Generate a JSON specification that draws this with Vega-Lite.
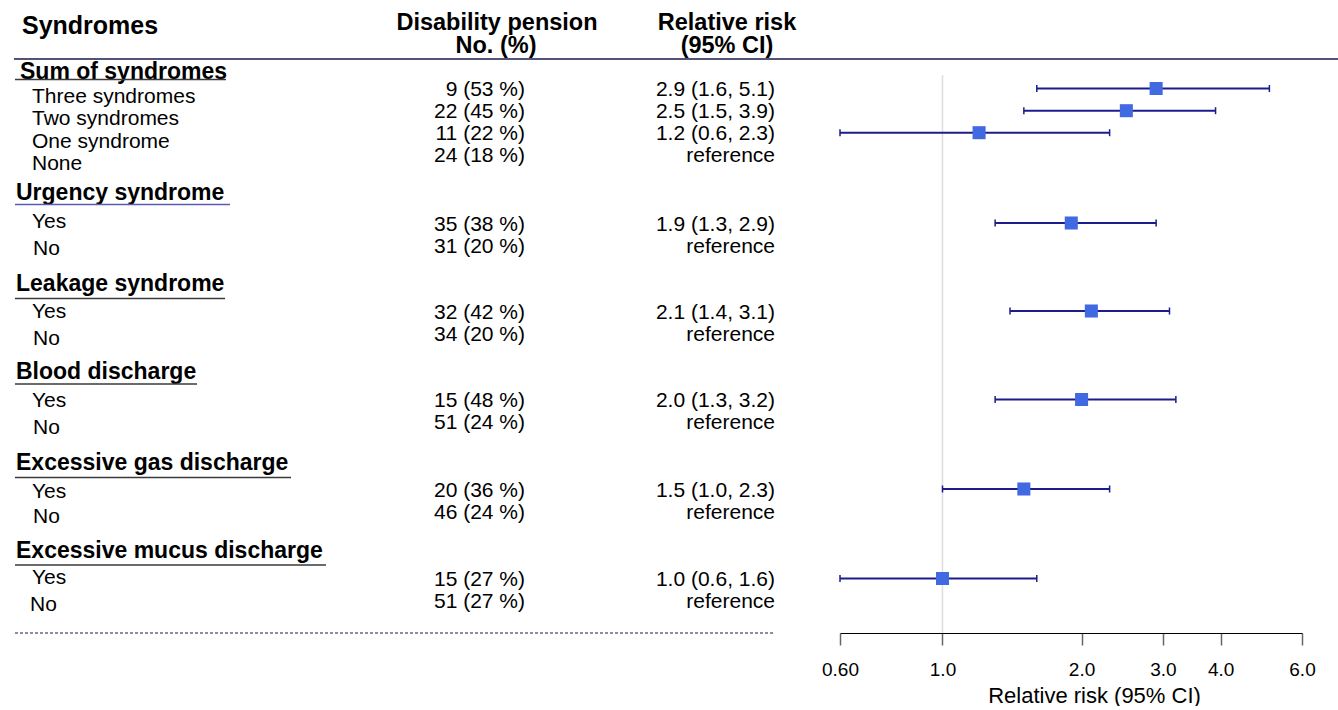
{
  "$schema": "https://vega.github.io/schema/vega-lite/v6.json",
  "padding": 0,
  "spacing": 0,
  "bounds": "flush",
  "config": {"view": {"stroke": null}, "font": "Liberation Sans", "text": {"font": "Liberation Sans", "color": "#000000"}},
  "datasets": {
    "headersLeft": [
      {"text": "Syndromes", "hx": 22, "hy": 25.5}
    ],
    "headersCenter": [
      {"text": "Disability pension", "hx": 497, "hy": 22.5},
      {"text": "No. (%)", "hx": 496, "hy": 46},
      {"text": "Relative risk", "hx": 727, "hy": 22.5},
      {"text": "(95% CI)", "hx": 727, "hy": 46}
    ],
    "topLine": [{"x1": 14, "x2": 840, "y": 59}],
    "bottomLine": [{"x1": 15, "x2": 775, "y": 633}],
    "sections": [
      {"section": "Sum of syndromes", "col": 20, "pos": 72, "ul": 79.5, "ulStart": 15, "ulEnd": 226},
      {"section": "Urgency syndrome", "col": 16, "pos": 192.5, "ul": 204.5, "ulStart": 15, "ulEnd": 230},
      {"section": "Leakage syndrome", "col": 16, "pos": 284, "ul": 298.5, "ulStart": 15, "ulEnd": 225},
      {"section": "Blood discharge", "col": 16, "pos": 371.5, "ul": 384, "ulStart": 15, "ulEnd": 197},
      {"section": "Excessive gas discharge", "col": 16, "pos": 463, "ul": 477.5, "ulStart": 15, "ulEnd": 291},
      {"section": "Excessive mucus discharge", "col": 16, "pos": 551, "ul": 565, "ulStart": 15, "ulEnd": 326}
    ],
    "items": [
      {"label": "Three syndromes", "col": 32, "pos": 97},
      {"label": "Two syndromes", "col": 32, "pos": 119},
      {"label": "One syndrome", "col": 32, "pos": 141.5},
      {"label": "None", "col": 32, "pos": 163.5},
      {"label": "Yes", "col": 32, "pos": 222},
      {"label": "No", "col": 33, "pos": 248.5},
      {"label": "Yes", "col": 32, "pos": 311.5},
      {"label": "No", "col": 33, "pos": 339},
      {"label": "Yes", "col": 32, "pos": 400.5},
      {"label": "No", "col": 33, "pos": 428},
      {"label": "Yes", "col": 32, "pos": 491.5},
      {"label": "No", "col": 33, "pos": 517},
      {"label": "Yes", "col": 32, "pos": 578},
      {"label": "No", "col": 30, "pos": 605}
    ],
    "results": [
      {"pos": 88.5, "ncol": 525, "cicol": 775, "n": "9 (53 %)", "ci": "2.9 (1.6, 5.1)", "rr": 2.9, "lo": 1.6, "hi": 5.1},
      {"pos": 110.7, "ncol": 525, "cicol": 775, "n": "22 (45 %)", "ci": "2.5 (1.5, 3.9)", "rr": 2.5, "lo": 1.5, "hi": 3.9},
      {"pos": 132.7, "ncol": 525, "cicol": 775, "n": "11 (22 %)", "ci": "1.2 (0.6, 2.3)", "rr": 1.2, "lo": 0.6, "hi": 2.3},
      {"pos": 154.5, "ncol": 525, "cicol": 775, "n": "24 (18 %)", "ci": "reference", "rr": null, "lo": null, "hi": null},
      {"pos": 223, "ncol": 525, "cicol": 775, "n": "35 (38 %)", "ci": "1.9 (1.3, 2.9)", "rr": 1.9, "lo": 1.3, "hi": 2.9},
      {"pos": 245, "ncol": 525, "cicol": 775, "n": "31 (20 %)", "ci": "reference", "rr": null, "lo": null, "hi": null},
      {"pos": 311, "ncol": 525, "cicol": 775, "n": "32 (42 %)", "ci": "2.1 (1.4, 3.1)", "rr": 2.1, "lo": 1.4, "hi": 3.1},
      {"pos": 333, "ncol": 525, "cicol": 775, "n": "34 (20 %)", "ci": "reference", "rr": null, "lo": null, "hi": null},
      {"pos": 399.5, "ncol": 525, "cicol": 775, "n": "15 (48 %)", "ci": "2.0 (1.3, 3.2)", "rr": 2.0, "lo": 1.3, "hi": 3.2},
      {"pos": 421.5, "ncol": 525, "cicol": 775, "n": "51 (24 %)", "ci": "reference", "rr": null, "lo": null, "hi": null},
      {"pos": 489, "ncol": 525, "cicol": 775, "n": "20 (36 %)", "ci": "1.5 (1.0, 2.3)", "rr": 1.5, "lo": 1.0, "hi": 2.3},
      {"pos": 511, "ncol": 525, "cicol": 775, "n": "46 (24 %)", "ci": "reference", "rr": null, "lo": null, "hi": null},
      {"pos": 578.5, "ncol": 525, "cicol": 775, "n": "15 (27 %)", "ci": "1.0 (0.6, 1.6)", "rr": 1.0, "lo": 0.6, "hi": 1.6},
      {"pos": 600.5, "ncol": 525, "cicol": 775, "n": "51 (27 %)", "ci": "reference", "rr": null, "lo": null, "hi": null}
    ],
    "headLineRight": [{"a": 0.6, "b": 7.25, "y": 59}],
    "refLine": [{"x": 1, "y1": 75, "y2": 633}]
  },
  "hconcat": [
    {
      "width": 840,
      "height": 633,
      "encoding": {
        "x": {"type": "quantitative", "scale": {"domain": [0, 840], "nice": false, "zero": false}, "axis": null},
        "y": {"type": "quantitative", "scale": {"domain": [0, 633], "nice": false, "zero": false, "reverse": true}, "axis": null}
      },
      "layer": [
        {
          "data": {"name": "headersLeft"},
          "mark": {"type": "text", "align": "left", "baseline": "middle", "fontSize": 25, "fontWeight": "bold"},
          "encoding": {
            "x": {"field": "hx", "type": "quantitative"},
            "y": {"field": "hy", "type": "quantitative"},
            "text": {"field": "text"}
          }
        },
        {
          "data": {"name": "headersCenter"},
          "mark": {"type": "text", "align": "center", "baseline": "middle", "fontSize": 23.5, "fontWeight": "bold"},
          "encoding": {
            "x": {"field": "hx", "type": "quantitative"},
            "y": {"field": "hy", "type": "quantitative"},
            "text": {"field": "text"}
          }
        },
        {
          "data": {"name": "topLine"},
          "mark": {"type": "rule", "color": "#1a1a4a", "strokeWidth": 1.3},
          "encoding": {
            "x": {"field": "x1", "type": "quantitative"},
            "x2": {"field": "x2"},
            "y": {"field": "y", "type": "quantitative"}
          }
        },
        {
          "data": {"name": "bottomLine"},
          "mark": {"type": "rule", "color": "#1a1a4a", "strokeWidth": 1, "strokeDash": [3, 2]},
          "encoding": {
            "x": {"field": "x1", "type": "quantitative"},
            "x2": {"field": "x2"},
            "y": {"field": "y", "type": "quantitative"}
          }
        },
        {
          "data": {"name": "sections"},
          "mark": {"type": "text", "align": "left", "baseline": "middle", "fontSize": 23, "fontWeight": "bold"},
          "encoding": {
            "x": {"field": "col", "type": "quantitative"},
            "y": {"field": "pos", "type": "quantitative"},
            "text": {"field": "section"}
          }
        },
        {
          "data": {"name": "sections"},
          "mark": {"type": "rule", "strokeWidth": 1.3},
          "encoding": {
            "x": {"field": "ulStart", "type": "quantitative"},
            "x2": {"field": "ulEnd"},
            "y": {"field": "ul", "type": "quantitative"},
            "color": {"condition": {"test": "datum.section === 'Urgency syndrome'", "value": "#5b5bb0"}, "value": "#3a3a3a"}
          }
        },
        {
          "data": {"name": "items"},
          "mark": {"type": "text", "align": "left", "baseline": "middle", "fontSize": 21},
          "encoding": {
            "x": {"field": "col", "type": "quantitative"},
            "y": {"field": "pos", "type": "quantitative"},
            "text": {"field": "label"}
          }
        },
        {
          "data": {"name": "results"},
          "mark": {"type": "text", "align": "right", "baseline": "middle", "fontSize": 21, "dy": 1.5},
          "encoding": {
            "x": {"field": "ncol", "type": "quantitative"},
            "y": {"field": "pos", "type": "quantitative"},
            "text": {"field": "n"}
          }
        },
        {
          "data": {"name": "results"},
          "mark": {"type": "text", "align": "right", "baseline": "middle", "fontSize": 21, "dy": 1.5},
          "encoding": {
            "x": {"field": "cicol", "type": "quantitative"},
            "y": {"field": "pos", "type": "quantitative"},
            "text": {"field": "ci"}
          }
        }
      ]
    },
    {
      "width": 462,
      "height": 633,
      "layer": [
        {
          "data": {"name": "headLineRight"},
          "mark": {"type": "rule", "color": "#1a1a4a", "strokeWidth": 1.3},
          "encoding": {
            "x": {"field": "a", "type": "quantitative", "scale": {"type": "log", "domain": [0.6, 6], "nice": false, "zero": false},
              "axis": {"values": [0.6, 1, 2, 3, 4, 6], "labelExpr": "datum.value < 1 ? format(datum.value, '.2f') : format(datum.value, '.1f')", "title": "Relative risk (95% CI)", "grid": false, "domainColor": "#000000", "domainWidth": 1.2, "tickColor": "#666666", "tickSize": 12, "tickWidth": 1.5, "labelFontSize": 19, "labelColor": "#000000", "labelFont": "Liberation Sans", "labelPadding": 15, "labelFlush": false, "labelOverlap": false, "titleFontSize": 22, "titleFontWeight": "normal", "titleFont": "Liberation Sans", "titleColor": "#000000", "titlePadding": 6, "titleX": 254}},
            "x2": {"field": "b"},
            "y": {"field": "y", "type": "quantitative", "scale": {"domain": [0, 633], "nice": false, "zero": false, "reverse": true}, "axis": null}
          }
        },
        {
          "data": {"name": "refLine"},
          "mark": {"type": "rule", "color": "#dddddd", "strokeWidth": 1.5},
          "encoding": {
            "x": {"field": "x", "type": "quantitative"},
            "y": {"field": "y1", "type": "quantitative"},
            "y2": {"field": "y2"}
          }
        },
        {
          "data": {"name": "results"},
          "transform": [{"filter": "isValid(datum.rr)"}],
          "mark": {"type": "rule", "color": "#1c1c8c", "strokeWidth": 2},
          "encoding": {
            "x": {"field": "lo", "type": "quantitative"},
            "x2": {"field": "hi"},
            "y": {"field": "pos", "type": "quantitative"}
          }
        },
        {
          "data": {"name": "results"},
          "transform": [{"filter": "isValid(datum.rr)"}],
          "mark": {"type": "tick", "orient": "vertical", "color": "#1c1c8c", "size": 7, "thickness": 1.5, "opacity": 1},
          "encoding": {
            "x": {"field": "lo", "type": "quantitative"},
            "y": {"field": "pos", "type": "quantitative"}
          }
        },
        {
          "data": {"name": "results"},
          "transform": [{"filter": "isValid(datum.rr)"}],
          "mark": {"type": "tick", "orient": "vertical", "color": "#1c1c8c", "size": 7, "thickness": 1.5, "opacity": 1},
          "encoding": {
            "x": {"field": "hi", "type": "quantitative"},
            "y": {"field": "pos", "type": "quantitative"}
          }
        },
        {
          "data": {"name": "results"},
          "transform": [{"filter": "isValid(datum.rr)"}],
          "mark": {"type": "square", "color": "#4169e1", "size": 170, "opacity": 1, "filled": true},
          "encoding": {
            "x": {"field": "rr", "type": "quantitative"},
            "y": {"field": "pos", "type": "quantitative"}
          }
        }
      ]
    }
  ]
}
